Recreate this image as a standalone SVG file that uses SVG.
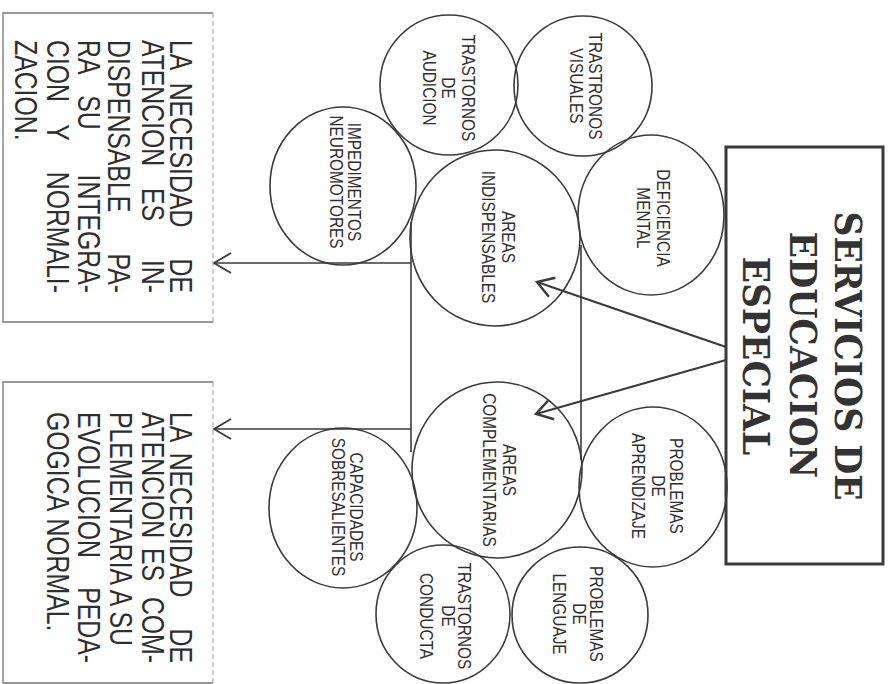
<svg xmlns="http://www.w3.org/2000/svg" width="889" height="684" viewBox="0 0 889 684">
<style>
  .bg{fill:#fff}
  .node{fill:none;stroke:#3a3a3a;stroke-width:1.6}
  .main{fill:none;stroke:#3a3a3a;stroke-width:3}
  .side{fill:none;stroke:#777;stroke-width:1.3}
  .sided{fill:none;stroke:#aaa;stroke-width:1.2;stroke-dasharray:5 3}
  .ln{fill:none;stroke:#3a3a3a;stroke-width:1.6}
  .arr{fill:none;stroke:#3a3a3a;stroke-width:2.2}
  .ct{font-family:"Liberation Sans",Arial,sans-serif;font-size:17.5px;fill:#2e2e2e}
  .bt{font-family:"Liberation Sans",Arial,sans-serif;font-size:31px;fill:#2e2e2e}
  .title{font-family:"DejaVu Serif","Liberation Serif",serif;font-weight:bold;font-size:38px;fill:#333}
</style>
<defs>
  <marker id="vh" markerUnits="userSpaceOnUse" markerWidth="40" markerHeight="40" viewBox="-20 -20 40 40" refX="0" refY="0" orient="auto">
    <path d="M -17 -10 L 0 0 L -17 10" fill="none" stroke="#3a3a3a" stroke-width="1.8"/>
  </marker>
  <marker id="vh2" markerUnits="userSpaceOnUse" markerWidth="40" markerHeight="40" viewBox="-20 -20 40 40" refX="0" refY="0" orient="auto">
    <path d="M -16 -10 L 0 0 L -16 10" fill="none" stroke="#3a3a3a" stroke-width="2.4"/>
  </marker>
</defs>
<rect class="bg" x="0" y="0" width="889" height="684"/>

<g id="connectors">
  <line class="ln" x1="411" y1="222" x2="411" y2="452"/>
  <line class="ln" x1="581" y1="245" x2="581" y2="460"/>
  <line class="ln" x1="411" y1="263" x2="214" y2="263" marker-end="url(#vh)"/>
  <line class="ln" x1="411" y1="429" x2="214" y2="429" marker-end="url(#vh)"/>
  <line class="arr" x1="726" y1="347" x2="537" y2="282" marker-end="url(#vh2)"/>
  <line class="arr" x1="726" y1="360" x2="536" y2="414" marker-end="url(#vh2)"/>
</g>

<g id="servicios">
  <rect class="main" x="726" y="147" width="157" height="417"/>
  <text class="title" text-anchor="middle" transform="translate(835,356) rotate(90) scale(0.91,1)">SERVICIOS DE</text>
  <text class="title" text-anchor="middle" transform="translate(790,355) rotate(90) scale(0.91,1)">EDUCACION</text>
  <text class="title" text-anchor="middle" transform="translate(743,356) rotate(90) scale(0.91,1)">ESPECIAL</text>
</g>

<g id="trastronos-visuales">
  <ellipse class="node" cx="583" cy="86" rx="69" ry="70"/>
  <text class="ct" text-anchor="middle" transform="translate(589,86) rotate(90) scale(0.88,1)"><tspan x="0" y="0">TRASTRONOS</tspan><tspan x="0" y="19">VISUALES</tspan></text>
</g>

<g id="deficiencia-mental">
  <ellipse class="node" cx="651" cy="215" rx="73" ry="80"/>
  <text class="ct" text-anchor="middle" transform="translate(657,218) rotate(90) scale(0.88,1)"><tspan x="0" y="0">DEFICIENCIA</tspan><tspan x="0" y="20">MENTAL</tspan></text>
</g>

<g id="areas-indispensables">
  <ellipse class="node" cx="495" cy="238" rx="85" ry="88"/>
  <text class="ct" text-anchor="middle" transform="translate(502,237) rotate(90) scale(0.88,1)"><tspan x="0" y="0">AREAS</tspan><tspan x="0" y="20">INDISPENSABLES</tspan></text>
</g>

<g id="trastornos-audicion">
  <ellipse class="node" cx="449" cy="85" rx="69" ry="70"/>
  <text class="ct" text-anchor="middle" transform="translate(462,88) rotate(90) scale(0.88,1)"><tspan x="0" y="0">TRASTORNOS</tspan><tspan x="0" y="20">DE</tspan><tspan x="0" y="39">AUDICION</tspan></text>
</g>

<g id="impedimentos-neuromotores">
  <ellipse class="node" cx="343" cy="186" rx="73" ry="79"/>
  <text class="ct" text-anchor="middle" transform="translate(348,182) rotate(90) scale(0.88,1)"><tspan x="0" y="0">IMPEDIMENTOS</tspan><tspan x="0" y="18">NEUROMOTORES</tspan></text>
</g>

<g id="areas-complementarias">
  <ellipse class="node" cx="497" cy="470" rx="85" ry="88"/>
  <text class="ct" text-anchor="middle" transform="translate(503,470) rotate(90) scale(0.88,1)"><tspan x="0" y="0">AREAS</tspan><tspan x="0" y="20">COMPLEMENTARIAS</tspan></text>
</g>

<g id="problemas-aprendizaje">
  <ellipse class="node" cx="653" cy="487" rx="74" ry="80"/>
  <text class="ct" text-anchor="middle" transform="translate(670,486) rotate(90) scale(0.88,1)"><tspan x="0" y="0">PROBLEMAS</tspan><tspan x="0" y="18">DE</tspan><tspan x="0" y="38">APRENDIZAJE</tspan></text>
</g>

<g id="problemas-lenguaje">
  <ellipse class="node" cx="580" cy="615" rx="68" ry="68"/>
  <text class="ct" text-anchor="middle" transform="translate(590,614) rotate(90) scale(0.88,1)"><tspan x="0" y="0">PROBLEMAS</tspan><tspan x="0" y="17">DE</tspan><tspan x="0" y="37">LENGUAJE</tspan></text>
</g>

<g id="trastornos-conducta">
  <ellipse class="node" cx="443" cy="614" rx="67" ry="69"/>
  <text class="ct" text-anchor="middle" transform="translate(458,616) rotate(90) scale(0.88,1)"><tspan x="0" y="0">TRASTORNOS</tspan><tspan x="0" y="16">DE</tspan><tspan x="0" y="38">CONDUCTA</tspan></text>
</g>

<g id="capacidades-sobresalientes">
  <ellipse class="node" cx="343" cy="508" rx="74" ry="80"/>
  <text class="ct" text-anchor="middle" transform="translate(350,507) rotate(90) scale(0.88,1)"><tspan x="0" y="0">CAPACIDADES</tspan><tspan x="0" y="18">SOBRESALIENTES</tspan></text>
</g>

<g id="nota-indispensable">
  <path class="side" d="M 213 13 L 3 13 L 3 322 L 213 322"/>
  <line class="sided" x1="213" y1="13" x2="213" y2="322"/>
  <g transform="rotate(90) scale(0.8,1)">
    <text class="bt"><tspan x="50" y="-170">LA</tspan><tspan x="193.75" y="-170" text-anchor="middle">NECESIDAD</tspan><tspan x="366.25" y="-170" text-anchor="end">DE</tspan></text>
    <text class="bt"><tspan x="50" y="-142">ATENCION</tspan><tspan x="255.6" y="-142" text-anchor="middle">ES</tspan><tspan x="366.25" y="-142" text-anchor="end">IN-</tspan></text>
    <text class="bt"><tspan x="50" y="-108">DISPENSABLE</tspan><tspan x="366.25" y="-108" text-anchor="end">PA-</tspan></text>
    <text class="bt"><tspan x="50" y="-78">RA</tspan><tspan x="140.6" y="-78" text-anchor="middle">SU</tspan><tspan x="366.25" y="-78" text-anchor="end">INTEGRA-</tspan></text>
    <text class="bt"><tspan x="50" y="-47">CION</tspan><tspan x="165.6" y="-47" text-anchor="middle">Y</tspan><tspan x="366.25" y="-47" text-anchor="end">NORMALI-</tspan></text>
    <text class="bt"><tspan x="50" y="-15">ZACION.</tspan></text>
  </g>
</g>

<g id="nota-complementaria">
  <path class="side" d="M 213 382 L 3 382 L 3 683 L 213 683"/>
  <line class="sided" x1="213" y1="382" x2="213" y2="683"/>
  <g transform="rotate(90) scale(0.8,1)">
    <text class="bt"><tspan x="515" y="-170">LA</tspan><tspan x="656.25" y="-170" text-anchor="middle">NECESIDAD</tspan><tspan x="828.75" y="-170" text-anchor="end">DE</tspan></text>
    <text class="bt"><tspan x="515" y="-142">ATENCION</tspan><tspan x="685" y="-142">ES</tspan><tspan x="828.75" y="-142" text-anchor="end">COM-</tspan></text>
    <text class="bt"><tspan x="515" y="-110">PLEMENTARIA</tspan><tspan x="747.5" y="-110" text-anchor="middle">A</tspan><tspan x="807.5" y="-110" text-anchor="end">SU</tspan></text>
    <text class="bt"><tspan x="515" y="-78">EVOLUCION</tspan><tspan x="828.75" y="-78" text-anchor="end">PEDA-</tspan></text>
    <text class="bt"><tspan x="515" y="-47">GOGICA</tspan><tspan x="648" y="-47">NORMAL.</tspan></text>
  </g>
</g>
</svg>
